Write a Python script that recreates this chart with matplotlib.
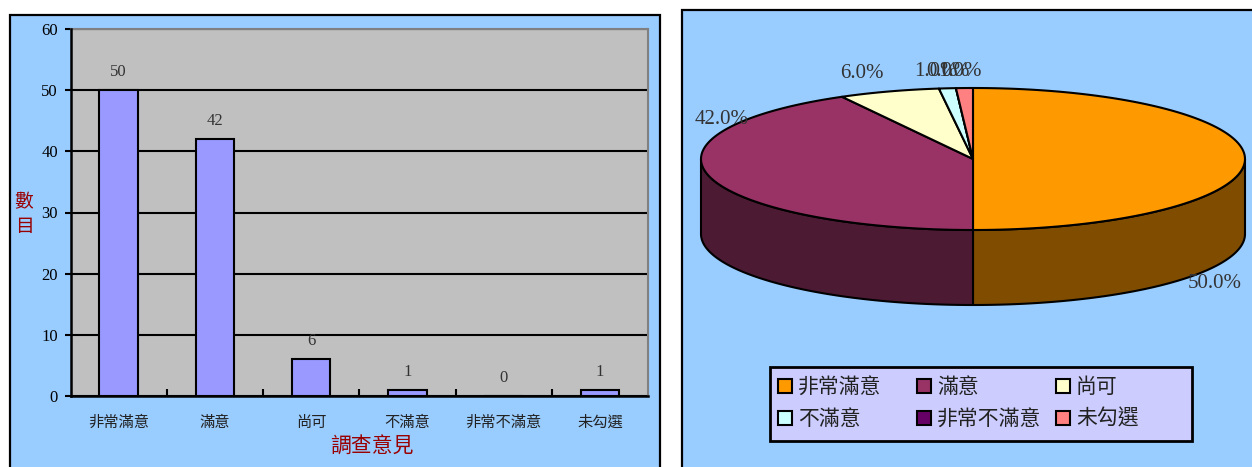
import matplotlib
matplotlib.use('Agg')
import matplotlib.pyplot as plt
import numpy as np
from matplotlib.patches import Rectangle, Polygon
from matplotlib.colors import to_rgb

plt.rcParams['font.family'] = ['Liberation Serif', 'Noto Sans CJK TC']
CJK = 'Noto Sans CJK TC'

# ---- 資料 ----
categories = ['非常滿意', '滿意', '尚可', '不滿意', '非常不滿意', '未勾選']
counts = [50, 42, 6, 1, 0, 1]
slice_colors = ['#FF9900', '#993366', '#FFFFCC', '#CCFFFF', '#660066', '#FF8080']

W, H = 1252, 467
fig = plt.figure(figsize=(W / 100, H / 100), dpi=100)
fig.patch.set_facecolor('white')

# 背景層：以像素座標繪製 (y 向下)
bg = fig.add_axes([0, 0, 1, 1], zorder=0)
bg.set_xlim(0, W)
bg.set_ylim(H, 0)
bg.axis('off')

panel_bg = '#99CCFF'
bg.add_patch(Rectangle((9.5, 14.5), 650, 470, facecolor=panel_bg, edgecolor='black', lw=1.6))
bg.add_patch(Rectangle((681.5, 9.5), 600, 470, facecolor=panel_bg, edgecolor='black', lw=1.6))


def px_axes(x0, y0, x1, y1):
    return [x0 / W, 1 - y1 / H, (x1 - x0) / W, (y1 - y0) / H]


# ============================================================
# 左：長條圖
# ============================================================
ax = fig.add_axes(px_axes(70.5, 29, 648, 396), zorder=1)
ax.set_facecolor('#C0C0C0')
x = np.arange(len(categories))
ax.bar(x, counts, width=0.4, color='#9999FF', edgecolor='black', linewidth=1.5, zorder=3)
ax.set_xlim(-0.5, len(categories) - 0.5)
ax.set_ylim(0, 60)
ax.set_yticks(range(0, 61, 10))
ax.yaxis.grid(True, color='black', lw=1.5)
ax.set_axisbelow(True)

for side in ('top', 'right'):
    ax.spines[side].set_color('#808080')
    ax.spines[side].set_linewidth(1.5)
for side in ('left', 'bottom'):
    ax.spines[side].set_color('black')
    ax.spines[side].set_linewidth(1.8)
    ax.spines[side].set_zorder(4)

ax.set_xticks(x)
ax.set_xticklabels(categories, family=CJK, fontsize=11, color='#222222')
ax.set_xticks(x[:-1] + 0.5, minor=True)
ax.tick_params(axis='x', which='major', length=0, pad=13)
ax.tick_params(axis='x', which='minor', direction='in', length=5, width=1.5)
ax.tick_params(axis='y', direction='out', length=4, width=1.5, pad=5, labelsize=12)

for xi, v in zip(x, counts):
    ax.annotate(str(v), (xi, v), xytext=(0, 13), textcoords='offset points',
                ha='center', va='center', fontsize=12, color='#333333')

bg.text(24, 214, '數\n目', family=CJK, fontsize=13.5, color='#990000',
        ha='center', va='center', linespacing=1.25)
bg.text(372, 447, '調查意見', family=CJK, fontsize=15, color='#990000',
        ha='center', va='center')

# ============================================================
# 右：立體圓餅圖
# ============================================================
cx, cy, a, b, depth = 973, 159, 272, 71, 75
total = sum(counts)
fracs = np.array(counts) / total
ends = np.cumsum(fracs)
starts = ends - fracs


def ellipse_pts(t1, t2, dy=0.0):
    t = np.radians(np.linspace(t1, t2, 120))
    return np.column_stack([cx + a * np.cos(t), cy - b * np.sin(t) + dy])


# 側面（只畫前半圈）
for s, e, c in zip(starts, ends, slice_colors):
    t1, t2 = 90 - 360 * e, 90 - 360 * s
    for k in (-360, 0, 360):
        lo, hi = max(t1, -180 + k), min(t2, k)
        if hi > lo:
            top = ellipse_pts(lo, hi)
            bot = ellipse_pts(hi, lo, depth)
            dark = np.array(to_rgb(c)) * 0.5
            bg.add_patch(Polygon(np.vstack([top, bot]), closed=True, facecolor=dark,
                                 edgecolor='black', lw=1.5, joinstyle='round'))

# 頂面
for s, e, c in zip(starts, ends, slice_colors):
    t1, t2 = 90 - 360 * e, 90 - 360 * s
    pts = np.vstack([[cx, cy], ellipse_pts(t1, t2)])
    bg.add_patch(Polygon(pts, closed=True, facecolor=c, edgecolor='black',
                         lw=1.5, joinstyle='round'))

# 百分比標籤
label_pos = [(1215, 284), (722, 119), (862, 74), (936, 72), (948, 72), (960, 72)]
for f, (lx, ly) in zip(fracs, label_pos):
    bg.text(lx, ly, f'{f * 100:.1f}%', fontsize=15, color='#333333',
            ha='center', va='center')

# 圖例
bg.add_patch(Rectangle((770, 367), 422, 74, facecolor='#CCCCFF', edgecolor='black', lw=2))
col_x = [778, 917, 1056]
row_y = [386, 418]
for i, (name, c) in enumerate(zip(categories, slice_colors)):
    mx, my = col_x[i % 3], row_y[i // 3]
    bg.add_patch(Rectangle((mx, my - 7), 14, 14, facecolor=c, edgecolor='black', lw=1.5))
    bg.text(mx + 20, my + 1, name, family=CJK, fontsize=15, color='#222222',
            ha='left', va='center')

fig.savefig('out.png', dpi=100, facecolor='white')
